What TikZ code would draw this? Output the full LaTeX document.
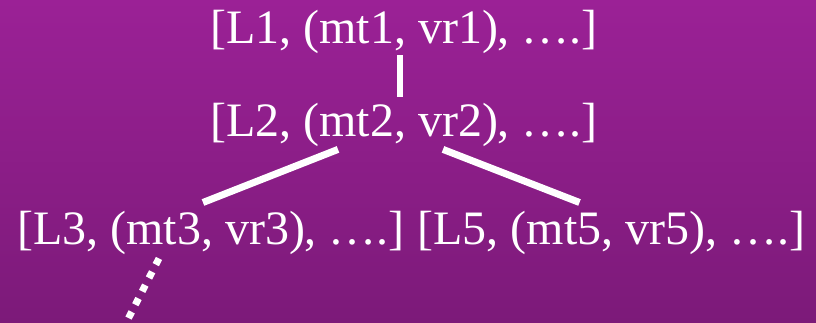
\documentclass[tikz,border=0pt]{standalone}
\usepackage{fontspec}
\setmainfont{Liberation Serif}
\usepackage{xcolor}
\usetikzlibrary{positioning, calc}
\definecolor{bgtop}{HTML}{9B2196}
\definecolor{bgbottom}{HTML}{7C1A79}

\begin{document}
\begin{tikzpicture}[
        x=1pt, y=1pt,
        entry/.style={
            inner sep=0pt,
            anchor=base,
            text=white,
            font=\fontsize{48}{48}\selectfont
        },
        link/.style={draw=white, line width=7pt},
        dotlink/.style={draw=white, line width=7pt, dash pattern=on 7pt off 8pt}
    ]
        % Background
        \useasboundingbox (0,0) rectangle (816,323);
        \shade[top color=bgtop, bottom color=bgbottom] (0,0) rectangle (816,323);

        % Nodes
        \node[entry] (l1) at (404,279) {[L1, (mt1, vr1), ….]};
        \node[entry] (l2) at (404,186) {[L2, (mt2, vr2), ….]};
        \node[entry] (l3) at (211,78) {[L3, (mt3, vr3), ….]};
        \node[entry] (l5) at (611.5,78) {[L5, (mt5, vr5), ….]};
        \coordinate (more) at (126,0);

        % Lines
        \draw[link, line width=6pt] ($(l1.south)+(-4,-1)$) -- ($(l2.north)+(-4,6)$);
        \draw[link] ($(l2.south)+(-66,-2)$) -- ($(l3.north)+(-8,9)$);
        \draw[link] ($(l2.south)+(39,-2)$) -- ($(l5.north)+(-32,9)$);
        \draw[dotlink] ($(l3.south)+(-52,-3)$) -- (more);
\end{tikzpicture}
\end{document}
